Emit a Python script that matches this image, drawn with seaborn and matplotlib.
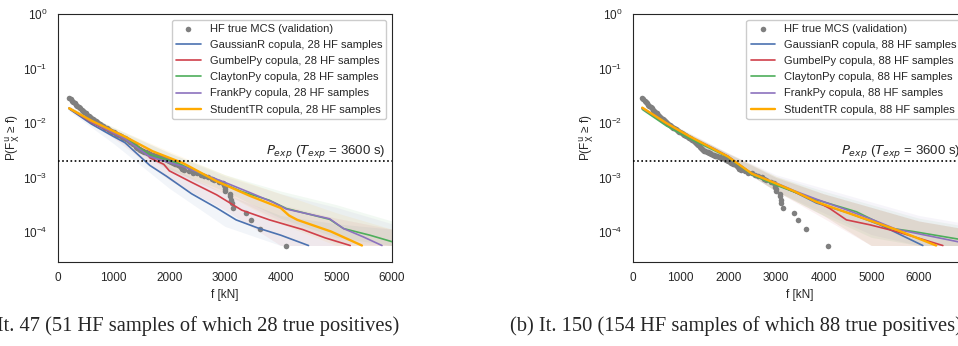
import matplotlib
matplotlib.use("Agg")
import matplotlib.pyplot as plt
import matplotlib.transforms as mtransforms
import numpy as np
import pandas as pd
import seaborn as sns

# ---------------- data ----------------
# HF true MCS (validation) exceedance points (same in both panels)
mcs_f = [4100, 3630, 3465, 3372, 3140, 3118, 3112, 3095, 3090, 3005, 2998, 2992,
         2985, 2960, 2890, 2800, 2760, 2700, 2620, 2560, 2500, 2420, 2350, 2260,
         2225, 2222, 2220, 2210, 2190, 2160, 2130, 2100, 2060, 2030, 2010, 1990,
         1970, 1950, 1930, 1910, 1850, 1800, 1750, 1700, 1650, 1600, 1550, 1500,
         1450, 1400, 1350, 1300, 1250, 1200, 1150, 1100, 1050, 1000, 950, 900,
         850, 800, 750, 700, 650, 600, 550, 500, 450, 400, 350, 300, 250, 200,
         1875, 1825, 1775, 1725, 1675, 1625, 1575, 1525, 1475, 1425, 1375, 1325,
         1275, 1225, 1175, 1125, 1075, 1025, 975, 925, 875, 825, 775, 725, 675,
         625, 575, 525, 475, 425, 375, 325, 275, 225]
mcs_p = [5.6e-5, 1.12e-4, 1.68e-4, 2.24e-4, 2.8e-4, 3.36e-4, 3.92e-4, 4.48e-4,
         5.04e-4, 5.6e-4, 6.16e-4, 6.72e-4, 7.28e-4, 7.84e-4, 8.4e-4, 8.96e-4,
         9.52e-4, 1.01e-3, 1.06e-3, 1.12e-3, 1.18e-3, 1.23e-3, 1.29e-3, 1.34e-3,
         1.40e-3, 1.46e-3, 1.51e-3, 1.57e-3, 1.62e-3, 1.68e-3, 1.74e-3, 1.79e-3,
         1.85e-3, 1.90e-3, 1.96e-3, 2.02e-3, 2.07e-3, 2.13e-3, 2.18e-3, 2.24e-3,
         2.32e-3, 2.40e-3, 2.48e-3, 2.57e-3, 2.69e-3, 2.82e-3, 2.95e-3, 3.09e-3,
         3.31e-3, 3.67e-3, 4.07e-3, 4.47e-3, 4.90e-3, 5.25e-3, 5.56e-3, 5.89e-3,
         6.31e-3, 6.68e-3, 7.16e-3, 7.67e-3, 8.22e-3, 8.91e-3, 9.55e-3, 1.04e-2,
         1.12e-2, 1.22e-2, 1.35e-2, 1.50e-2, 1.66e-2, 1.86e-2, 2.07e-2, 2.29e-2,
         2.57e-2, 2.88e-2,
         2.28e-3, 2.36e-3, 2.44e-3, 2.52e-3, 2.63e-3, 2.75e-3, 2.88e-3, 3.02e-3,
         3.20e-3, 3.49e-3, 3.87e-3, 4.27e-3, 4.68e-3, 5.07e-3, 5.40e-3, 5.72e-3,
         6.10e-3, 6.49e-3, 6.92e-3, 7.41e-3, 7.94e-3, 8.55e-3, 9.23e-3, 9.97e-3,
         1.08e-2, 1.17e-2, 1.28e-2, 1.42e-2, 1.58e-2, 1.76e-2, 1.96e-2, 2.18e-2,
         2.43e-2, 2.72e-2]

copula_names = ["GaussianR", "GumbelPy", "ClaytonPy", "FrankPy", "StudentTR"]
hf_counts = [28, 88]
p_exp = 2.0e-3
captions = ["(a) It. 47 (51 HF samples of which 28 true positives)",
            "(b) It. 150 (154 HF samples of which 88 true positives)"]

# ---- panel (a): 28 HF samples ----
a_gauss_f = [200, 600, 1000, 1200, 1500, 1650, 1950, 2400, 2850, 3200, 3600, 4000, 4500]
a_gauss_p = [1.82e-2, 9.55e-3, 5.62e-3, 4.37e-3, 2.29e-3, 1.66e-3, 1.05e-3, 5.01e-4,
             2.75e-4, 1.66e-4, 1.17e-4, 8.71e-5, 5.62e-5]
a_gumbel_f = [200, 600, 1200, 1550, 1650, 1900, 2000, 2400, 2850, 3300, 3800, 4400, 4800, 5250]
a_gumbel_p = [1.86e-2, 1.02e-2, 5.13e-3, 3.16e-3, 2.29e-3, 1.74e-3, 1.32e-3, 8.13e-4,
              4.79e-4, 2.51e-4, 1.66e-4, 1.10e-4, 7.76e-5, 5.62e-5]
a_clayton_f = [200, 600, 1200, 1650, 2200, 2850, 3300, 3800, 4100, 4880, 5130, 5600, 6000, 6100]
a_clayton_p = [1.86e-2, 1.07e-2, 5.37e-3, 2.63e-3, 1.74e-3, 8.71e-4, 5.50e-4, 3.80e-4,
               2.69e-4, 1.70e-4, 1.15e-4, 8.71e-5, 6.61e-5, 6.31e-5]
a_frank_f = [200, 600, 1200, 1650, 2250, 2970, 3450, 3870, 4100, 4880, 5130, 5480, 5820]
a_frank_p = [1.86e-2, 1.05e-2, 5.13e-3, 2.40e-3, 1.58e-3, 8.32e-4, 5.25e-4, 3.47e-4,
             2.63e-4, 1.74e-4, 1.15e-4, 8.13e-5, 5.62e-5]
a_student_f = [200, 600, 1200, 1700, 2250, 2850, 3450, 3900, 4000, 4150, 4300, 4900, 5460]
a_student_p = [1.86e-2, 1.10e-2, 5.62e-3, 3.02e-3, 1.82e-3, 8.51e-4, 4.57e-4, 3.02e-4,
               2.75e-4, 2.00e-4, 1.66e-4, 1.02e-4, 5.62e-5]

a_band_f = [200, 1000, 2000, 3000, 4000, 5000, 6000]
a_gauss_lo = [1.66e-2, 4.17e-3, 6.31e-4, 1.26e-4, 5.62e-5, 5.62e-5, 5.62e-5]
a_gauss_hi = [2.00e-2, 7.08e-3, 1.58e-3, 5.01e-4, 2.00e-4, 1.41e-4, 1.12e-4]
a_gumbel_lo = [1.74e-2, 5.25e-3, 8.91e-4, 2.51e-4, 5.62e-5, 5.62e-5, 5.62e-5]
a_gumbel_hi = [2.00e-2, 7.59e-3, 2.24e-3, 7.94e-4, 3.16e-4, 1.78e-4, 1.12e-4]
a_clayton_lo = [1.74e-2, 5.62e-3, 1.41e-3, 5.62e-4, 1.78e-4, 7.94e-5, 5.62e-5]
a_clayton_hi = [2.00e-2, 8.32e-3, 2.82e-3, 1.12e-3, 5.62e-4, 3.16e-4, 1.58e-4]
a_frank_lo = [1.74e-2, 5.37e-3, 1.32e-3, 5.01e-4, 1.58e-4, 6.31e-5, 5.62e-5]
a_frank_hi = [2.00e-2, 7.94e-3, 2.82e-3, 1.05e-3, 5.01e-4, 2.82e-4, 1.41e-4]
a_student_lo = [1.74e-2, 5.62e-3, 1.41e-3, 5.01e-4, 1.41e-4, 5.62e-5, 5.62e-5]
a_student_hi = [2.04e-2, 8.32e-3, 3.02e-3, 1.12e-3, 5.01e-4, 2.24e-4, 1.12e-4]

# ---- panel (b): 88 HF samples ----
b_gauss_f = [200, 700, 1200, 1700, 2000, 2500, 3000, 3400, 3850, 4550, 5180, 6080]
b_gauss_p = [1.86e-2, 9.77e-3, 5.50e-3, 3.31e-3, 2.40e-3, 1.15e-3, 7.59e-4, 5.37e-4,
             3.39e-4, 2.19e-4, 1.35e-4, 5.62e-5]
b_gumbel_f = [200, 700, 1200, 1700, 2000, 2500, 3000, 3400, 3850, 4130, 4480, 4970, 5520, 6500]
b_gumbel_p = [1.86e-2, 9.77e-3, 5.50e-3, 3.31e-3, 2.40e-3, 1.15e-3, 7.59e-4, 5.37e-4,
              3.63e-4, 2.69e-4, 1.66e-4, 1.35e-4, 1.02e-4, 5.62e-5]
b_clayton_f = [200, 700, 1200, 1700, 2000, 2500, 3000, 3400, 3850, 4690, 5390, 5870, 6810, 7000]
b_clayton_p = [1.78e-2, 8.91e-3, 5.13e-3, 3.16e-3, 2.34e-3, 1.12e-3, 7.24e-4, 5.37e-4,
               3.89e-4, 2.34e-4, 1.17e-4, 1.02e-4, 7.41e-5, 6.92e-5]
b_frank_f = [200, 700, 1200, 1700, 2000, 2500, 3000, 3400, 3850, 4500, 5040, 5520, 6810, 7000]
b_frank_p = [1.86e-2, 1.00e-2, 5.62e-3, 3.39e-3, 2.45e-3, 1.17e-3, 7.94e-4, 5.62e-4,
             3.98e-4, 2.51e-4, 1.66e-4, 1.12e-4, 6.61e-5, 6.03e-5]
b_student_f = [200, 700, 1200, 1700, 2000, 2500, 3000, 3400, 3850, 4830, 5520, 6360]
b_student_p = [1.91e-2, 1.00e-2, 5.62e-3, 3.31e-3, 2.40e-3, 1.17e-3, 7.76e-4, 5.50e-4,
               3.55e-4, 1.78e-4, 1.10e-4, 5.62e-5]

b_band_f = [200, 1000, 2000, 3000, 4000, 5000, 6000, 7000]
b_gauss_lo = [1.74e-2, 6.31e-3, 2.00e-3, 5.62e-4, 2.00e-4, 5.62e-5, 5.62e-5, 5.62e-5]
b_gauss_hi = [2.00e-2, 7.59e-3, 2.75e-3, 1.00e-3, 5.01e-4, 2.82e-4, 1.58e-4, 1.12e-4]
b_gumbel_lo = [1.74e-2, 6.31e-3, 2.00e-3, 5.62e-4, 1.78e-4, 5.62e-5, 5.62e-5, 5.62e-5]
b_gumbel_hi = [2.00e-2, 7.59e-3, 2.75e-3, 1.00e-3, 5.01e-4, 2.82e-4, 1.58e-4, 1.12e-4]
b_clayton_lo = [1.66e-2, 6.31e-3, 2.00e-3, 5.62e-4, 2.00e-4, 7.94e-5, 5.62e-5, 5.62e-5]
b_clayton_hi = [1.91e-2, 7.59e-3, 2.75e-3, 1.05e-3, 5.62e-4, 3.16e-4, 1.78e-4, 1.26e-4]
b_frank_lo = [1.74e-2, 6.31e-3, 2.00e-3, 5.62e-4, 2.24e-4, 8.91e-5, 5.62e-5, 5.62e-5]
b_frank_hi = [2.00e-2, 7.94e-3, 2.82e-3, 1.12e-3, 6.31e-4, 3.55e-4, 2.00e-4, 1.41e-4]
b_student_lo = [1.74e-2, 6.31e-3, 2.00e-3, 5.62e-4, 2.00e-4, 5.62e-5, 5.62e-5, 5.62e-5]
b_student_hi = [2.04e-2, 7.94e-3, 2.82e-3, 1.05e-3, 5.01e-4, 2.82e-4, 1.58e-4, 1.12e-4]

panel_lines = [
    [(a_gauss_f, a_gauss_p), (a_gumbel_f, a_gumbel_p), (a_clayton_f, a_clayton_p),
     (a_frank_f, a_frank_p), (a_student_f, a_student_p)],
    [(b_gauss_f, b_gauss_p), (b_gumbel_f, b_gumbel_p), (b_clayton_f, b_clayton_p),
     (b_frank_f, b_frank_p), (b_student_f, b_student_p)],
]
panel_bands = [
    (a_band_f, [(a_gauss_lo, a_gauss_hi), (a_gumbel_lo, a_gumbel_hi), (a_clayton_lo, a_clayton_hi),
                (a_frank_lo, a_frank_hi), (a_student_lo, a_student_hi)]),
    (b_band_f, [(b_gauss_lo, b_gauss_hi), (b_gumbel_lo, b_gumbel_hi), (b_clayton_lo, b_clayton_hi),
                (b_frank_lo, b_frank_hi), (b_student_lo, b_student_hi)]),
]

# ---------------- style ----------------
sns.set_style("white")
plt.rcParams["font.family"] = ["Liberation Sans", "DejaVu Sans"]
plt.rcParams["font.size"] = 8
plt.rcParams["mathtext.fontset"] = "dejavusans"

colors = ["#4C72B0", "#D0404A", "#4EAE5B", "#8C72BE", "#FFAA00"]
widths = [1.2, 1.2, 1.2, 1.2, 1.7]
mcs_color = "#7F7F7F"

W, H = 958, 346
fig = plt.figure(figsize=(W / 100, H / 100), dpi=100)

ax_px = [(58, 14, 334, 248), (632.7, 14, 334, 248)]
xmaxs = [6000, 7000]

for i in range(2):
    x0, y0, w, h = ax_px[i]
    ax = fig.add_axes([x0 / W, 1 - (y0 + h) / H, w / W, h / H])
    band_f, bands = panel_bands[i]
    for (lo, hi), c in zip(bands, colors):
        ax.fill_between(band_f, lo, hi, color=c, alpha=0.07, linewidth=0)
    mdf = pd.DataFrame({"f": mcs_f, "p": mcs_p})
    sns.scatterplot(data=mdf, x="f", y="p", ax=ax, color=mcs_color, s=16,
                    linewidth=0, label="HF true MCS (validation)", zorder=3)
    for (fx, py), name, c, lw in zip(panel_lines[i], copula_names, colors, widths):
        ldf = pd.DataFrame({"f": fx, "p": py})
        sns.lineplot(data=ldf, x="f", y="p", ax=ax, color=c, lw=lw, sort=False,
                     estimator=None,
                     label=f"{name} copula, {hf_counts[i]} HF samples", zorder=4)
    ax.axhline(p_exp, color="black", ls=(0, (1, 1.5)), lw=1.2, zorder=5)
    trans = mtransforms.blended_transform_factory(ax.transAxes, ax.transData)
    ax.text(0.982, p_exp * 1.03, r"$P_{exp}$ ($T_{exp}$ = 3600 s)", transform=trans,
            ha="right", va="bottom", fontsize=9.5)
    ax.set_yscale("log")
    ax.set_ylim(2.8e-5, 1.0)
    ax.set_xlim(0, xmaxs[i])
    ax.set_xticks([0, 1000, 2000, 3000, 4000, 5000, 6000])
    ax.set_yticks([1e-4, 1e-3, 1e-2, 1e-1, 1e0])
    ax.minorticks_off()
    ax.tick_params(labelsize=8.5, pad=4)
    ax.set_xlabel("f [kN]", fontsize=8.5, labelpad=3)
    ax.set_ylabel(r"P(F$_\mathrm{X}^\mathrm{u}$ ≥ f)", fontsize=8.5, labelpad=1)
    ax.legend(loc="upper right", fontsize=8, frameon=True, handlelength=2.2,
              borderpad=0.4, labelspacing=0.55, framealpha=1, edgecolor="#CCCCCC")

fig.text(399 / W, 1 - 331 / H, captions[0], ha="right", va="baseline",
         family="Liberation Serif", fontsize=14.8)
fig.text(510 / W, 1 - 331 / H, captions[1], ha="left", va="baseline",
         family="Liberation Serif", fontsize=14.8)

fig.savefig("out.png", dpi=100)
